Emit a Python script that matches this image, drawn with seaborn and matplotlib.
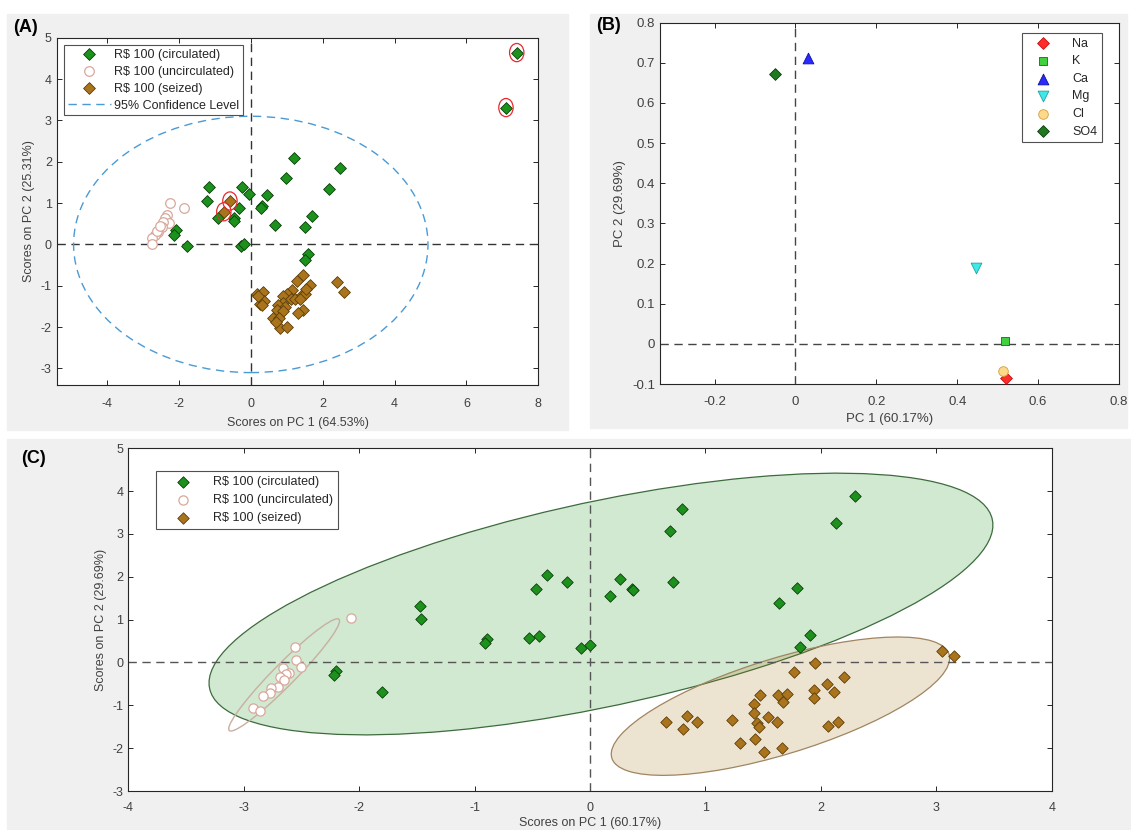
import numpy as np
import matplotlib
matplotlib.use("Agg")
import matplotlib.pyplot as plt
from matplotlib.patches import Ellipse, Rectangle
from matplotlib.lines import Line2D
import seaborn as sns

sns.set_theme(style="ticks")
plt.rcParams['font.family'] = ['Liberation Sans', 'DejaVu Sans']
plt.rcParams['axes.unicode_minus'] = False
plt.rcParams['xtick.direction'] = 'in'
plt.rcParams['ytick.direction'] = 'in'
plt.rcParams['xtick.top'] = True
plt.rcParams['ytick.right'] = True
plt.rcParams['axes.edgecolor'] = '#262626'
plt.rcParams['axes.linewidth'] = 0.8
plt.rcParams['xtick.color'] = '#262626'
plt.rcParams['ytick.color'] = '#262626'
plt.rcParams['xtick.labelcolor'] = '#404040'
plt.rcParams['ytick.labelcolor'] = '#404040'
plt.rcParams['axes.labelcolor'] = '#404040'

# =============================================================================
# Data
# =============================================================================

# (A) scores, PC1 vs PC2
a_circ_x = [7.40, 7.10, 1.21, 0.97, 2.48, 2.18, 1.71, 1.51, 1.58, 1.52, 0.44, 0.32, 0.28, 0.68,
            -0.05, -0.25, -0.34, -0.48, -0.46, -0.90, -1.17, -1.22, -2.07, -2.15, -1.78, -0.27, -0.19]
a_circ_y = [4.64, 3.31, 2.08, 1.61, 1.84, 1.33, 0.69, 0.41, -0.22, -0.38, 1.19, 0.93, 0.87, 0.47,
            1.22, 1.38, 0.89, 0.65, 0.56, 0.63, 1.39, 1.06, 0.35, 0.24, -0.03, -0.03, 0.01]
a_unc_x = [-2.24, -1.85, -2.32, -2.40, -2.28, -2.43, -2.46, -2.57, -2.66, -2.74, -2.75, -2.61, -2.52]
a_unc_y = [0.99, 0.87, 0.71, 0.65, 0.51, 0.55, 0.41, 0.31, 0.24, 0.15, 0.02, 0.33, 0.45]
a_seiz_x = [-0.58, -0.75, 1.46, 1.28, 1.65, 2.39, 2.60, 0.17, 0.35, 0.26, 0.38, 1.14, 1.00, 0.89,
            1.12, 1.23, 1.42, 1.51, 1.54, 1.37, 0.91, 0.77, 0.95, 0.72, 0.91, 1.44, 1.32, 0.61,
            0.79, 0.81, 1.00, 0.70, 0.21, 0.30]
a_seiz_y = [1.05, 0.79, -0.74, -0.88, -0.99, -0.91, -1.16, -1.20, -1.16, -1.43, -1.37, -1.11, -1.19, -1.25,
            -1.32, -1.31, -1.23, -1.19, -1.09, -1.33, -1.41, -1.47, -1.51, -1.59, -1.61, -1.59, -1.67, -1.79,
            -1.77, -2.03, -2.00, -1.87, -1.25, -1.47]
# outliers flagged with red rings
a_flag_x = [7.40, 7.10, -0.58, -0.75]
a_flag_y = [4.64, 3.31, 1.05, 0.79]
a_conf_radii = [4.93, 3.10]   # 95% confidence ellipse half axes

# (B) loadings
b_names = ['Na', 'K', 'Ca', 'Mg', 'Cl', 'SO4']
b_x = [0.521, 0.519, 0.030, 0.446, 0.514, -0.050]
b_y = [-0.085, 0.008, 0.711, 0.189, -0.068, 0.672]

# (C) scores, PC1 vs PC2
c_circ_x = [0.80, 0.69, 0.72, 0.26, 0.36, 0.37, 0.17, -0.20, -0.37, -0.47, -1.47, -1.46, -0.89, -0.91,
            -0.53, -0.44, -0.08, 0.00, -1.80, 1.64, -2.20, -2.22, 2.30, 2.13, 1.79, 1.91, 1.82]
c_circ_y = [3.59, 3.06, 1.88, 1.95, 1.72, 1.70, 1.56, 1.89, 2.05, 1.71, 1.33, 1.02, 0.55, 0.45,
            0.58, 0.62, 0.34, 0.40, -0.69, 1.39, -0.19, -0.30, 3.88, 3.26, 1.73, 0.65, 0.35]
c_unc_x = [-2.07, -2.56, -2.55, -2.50, -2.66, -2.61, -2.63, -2.69, -2.65, -2.70, -2.76, -2.77, -2.83, -2.92, -2.86]
c_unc_y = [1.04, 0.37, 0.06, -0.11, -0.13, -0.25, -0.27, -0.34, -0.42, -0.58, -0.60, -0.71, -0.79, -1.06, -1.14]
c_seiz_x = [1.95, 1.77, 2.20, 2.05, 2.11, 1.94, 1.94, 1.47, 1.63, 1.71, 1.67, 1.42, 1.42, 1.54, 1.62,
            1.45, 1.46, 1.43, 1.30, 1.51, 1.66, 1.23, 0.93, 0.84, 0.81, 0.66, 2.06, 2.15, 3.05, 3.15]
c_seiz_y = [-0.02, -0.22, -0.34, -0.50, -0.69, -0.65, -0.82, -0.75, -0.75, -0.73, -0.93, -0.97, -1.18, -1.28, -1.38,
            -1.41, -1.51, -1.78, -1.88, -2.10, -2.00, -1.35, -1.38, -1.26, -1.56, -1.39, -1.48, -1.38, 0.27, 0.16]
# class ellipses: centre and shape matrix
c_ell_circ = [(0.095, 1.365), [[11.53, 6.26], [6.26, 9.33]]]
c_ell_seiz = [(1.65, -1.02), [[2.149, 1.64], [1.64, 2.608]]]
c_ell_unc = [(-2.65, -0.29), [[0.2304, 0.604], [0.604, 1.716]]]

lab_circ = r'R\$ 100 (circulated)'
lab_unc = r'R\$ 100 (uncirculated)'
lab_seiz = r'R\$ 100 (seized)'

GREEN = '#1c921c'
GREEN_EDGE = '#0b3d0b'
BROWN = '#aa741c'
BROWN_EDGE = '#5a3d0a'
PINK = '#d9a89c'

W, H = 1131, 830


def cov_ellipse(center, mat, **kw):
    vals, vecs = np.linalg.eigh(np.array(mat))
    angle = np.degrees(np.arctan2(vecs[1, 1], vecs[0, 1]))
    return Ellipse(center, 2 * np.sqrt(vals[1]), 2 * np.sqrt(vals[0]), angle=angle, **kw)


def px_axes(left, top, right, bottom):
    ax = fig.add_axes([left / W, 1 - bottom / H, (right - left) / W, (bottom - top) / H])
    ax.set_facecolor('white')
    ax.set_zorder(2)
    return ax


def gray_panel(x0, y0, x1, y1):
    fig.add_artist(Rectangle((x0 / W, 1 - y1 / H), (x1 - x0) / W, (y1 - y0) / H,
                             transform=fig.transFigure, color='#f0f0f0', zorder=-5))


fig = plt.figure(figsize=(W / 100, H / 100), dpi=100)
gray_panel(7, 14, 568, 430)
gray_panel(590, 14, 1127, 428)
gray_panel(7, 439, 1131, 830)

# =============================================================================
# (A)
# =============================================================================
axA = px_axes(56.7, 37.7, 538.3, 385)
axA.axhline(0, color='#333333', lw=1, ls=(0, (6, 4)), zorder=1)
axA.axvline(0, color='#333333', lw=1, ls=(0, (6, 4)), zorder=1)
axA.add_patch(Ellipse((0, 0), 2 * a_conf_radii[0], 2 * a_conf_radii[1], fill=False,
                      ec='#4a9ad4', lw=1, ls=(0, (6, 4)), zorder=1))
sns.scatterplot(x=a_circ_x, y=a_circ_y, marker='D', s=36, color=GREEN, edgecolor=GREEN_EDGE,
                linewidth=0.6, ax=axA, label=lab_circ, zorder=3)
sns.scatterplot(x=a_unc_x, y=a_unc_y, marker='o', s=48, color='white', edgecolor=PINK,
                linewidth=0.9, ax=axA, label=lab_unc, zorder=3)
sns.scatterplot(x=a_seiz_x, y=a_seiz_y, marker='D', s=36, color=BROWN, edgecolor=BROWN_EDGE,
                linewidth=0.6, ax=axA, label=lab_seiz, zorder=3)
for fx, fy in zip(a_flag_x, a_flag_y):
    axA.add_patch(Ellipse((fx, fy), 0.40, 0.44, fill=False, ec='#e8292e', lw=0.9, zorder=4))
axA.set_xlim(-5.4, 8)
axA.set_ylim(-3.4, 5)
axA.set_xticks([-4, -2, 0, 2, 4, 6, 8])
axA.set_yticks(range(-3, 6))
axA.tick_params(labelsize=9, length=3.5, width=0.7)
axA.tick_params(axis='x', pad=9)
axA.set_xlabel('Scores on PC 1 (64.53%)', fontsize=9, labelpad=5.5)
axA.set_ylabel('Scores on PC 2 (25.31%)', fontsize=9)
h, l = axA.get_legend_handles_labels()
h.append(Line2D([], [], color='#4a9ad4', lw=1, ls=(0, (6, 4))))
l.append('95% Confidence Level')
legA = axA.legend(h, l, loc='upper left', bbox_to_anchor=(0.0158, 0.979), borderaxespad=0,
                  fontsize=9, frameon=True, fancybox=False, edgecolor='#262626',
                  handlelength=3.4, labelspacing=0.4, borderpad=0.3, handletextpad=0.3)
legA.get_frame().set_linewidth(0.8)

# =============================================================================
# (B)
# =============================================================================
axB = px_axes(659.9, 22.7, 1119.1, 384)
axB.axhline(0, color='#444444', lw=1, ls=(0, (6, 4)), zorder=1)
axB.axvline(0, color='#444444', lw=1, ls=(0, (6, 4)), zorder=1)
b_style = {
    'Na': dict(marker='D', s=36, color='#ff2a2a', edgecolor='#c01010'),
    'K': dict(marker='s', s=26, color='#40d040', edgecolor='#107010'),
    'Ca': dict(marker='^', s=60, color='#2a2aff', edgecolor='#1010a0'),
    'Mg': dict(marker='v', s=60, color='#40e8e8', edgecolor='#20a0a0'),
    'Cl': dict(marker='o', s=48, color='#ffd98a', edgecolor='#d0a040'),
    'SO4': dict(marker='D', s=36, color='#1f7a1f', edgecolor='#0b3d0b'),
}
for name, bx, by in zip(b_names, b_x, b_y):
    sns.scatterplot(x=[bx], y=[by], linewidth=0.6, ax=axB, label=name, zorder=3, **b_style[name])
axB.set_xlim(-0.335, 0.8)
axB.set_ylim(-0.1, 0.8)
axB.set_xticks([-0.2, 0, 0.2, 0.4, 0.6, 0.8])
axB.set_xticklabels(['-0.2', '0', '0.2', '0.4', '0.6', '0.8'])
axB.set_yticks([-0.1, 0, 0.1, 0.2, 0.3, 0.4, 0.5, 0.6, 0.7, 0.8])
axB.set_yticklabels(['-0.1', '0', '0.1', '0.2', '0.3', '0.4', '0.5', '0.6', '0.7', '0.8'])
axB.tick_params(labelsize=9.5, length=3.5, width=0.7)
axB.tick_params(axis='x', pad=8.5)
axB.set_xlabel('PC 1 (60.17%)', fontsize=9.5)
axB.set_ylabel('PC 2 (29.69%)', fontsize=9.5)
legB = axB.legend(loc='upper right', bbox_to_anchor=(0.962, 0.971), borderaxespad=0,
                  fontsize=9, frameon=True, fancybox=False, edgecolor='#262626',
                  handlelength=2.8, labelspacing=0.45, borderpad=0.35, handletextpad=0.9)
legB.get_frame().set_linewidth(0.8)

# =============================================================================
# (C)
# =============================================================================
axC = px_axes(128.3, 448.3, 1051.7, 791)
axC.add_patch(cov_ellipse(*c_ell_circ, fc=(0.1, 0.55, 0.1, 0.2), ec='#3d6b3d', lw=0.9, zorder=1))
axC.add_patch(cov_ellipse(*c_ell_seiz, fc=(0.65, 0.45, 0.1, 0.2), ec='#a08560', lw=0.9, zorder=1))
axC.add_patch(cov_ellipse(*c_ell_unc, fill=False, ec='#c8b0a0', lw=1, zorder=1))
axC.axhline(0, color='#555555', lw=1, ls=(0, (6, 4)), zorder=2)
axC.axvline(0, color='#555555', lw=1, ls=(0, (6, 4)), zorder=2)
sns.scatterplot(x=c_circ_x, y=c_circ_y, marker='D', s=34, color=GREEN, edgecolor=GREEN_EDGE,
                linewidth=0.6, ax=axC, label=lab_circ, zorder=3)
sns.scatterplot(x=c_unc_x, y=c_unc_y, marker='o', s=44, color='white', edgecolor=PINK,
                linewidth=0.9, ax=axC, label=lab_unc, zorder=3)
sns.scatterplot(x=c_seiz_x, y=c_seiz_y, marker='D', s=34, color=BROWN, edgecolor=BROWN_EDGE,
                linewidth=0.6, ax=axC, label=lab_seiz, zorder=3)
axC.set_xlim(-4, 4)
axC.set_ylim(-3, 5)
axC.set_xticks(range(-4, 5))
axC.set_yticks(range(-3, 6))
axC.tick_params(labelsize=9, length=3.5, width=0.7)
axC.tick_params(axis='x', pad=8)
axC.set_xlabel('Scores on PC 1 (60.17%)', fontsize=9, labelpad=2)
axC.set_ylabel('Scores on PC 2 (29.69%)', fontsize=9)
legC = axC.legend(loc='upper left', bbox_to_anchor=(0.0297, 0.934), borderaxespad=0,
                  fontsize=9, frameon=True, fancybox=False, edgecolor='#262626',
                  handlelength=3.6, labelspacing=0.5, borderpad=0.4, handletextpad=0.6)
legC.get_frame().set_linewidth(0.8)

for txt, x, y in [('(A)', 13, 27), ('(B)', 596, 26), ('(C)', 21, 458)]:
    fig.text(x / W, 1 - y / H, txt, fontsize=13, fontweight='bold', va='center', ha='left',
             color='black', zorder=5)

fig.savefig('out.png', dpi=100)
